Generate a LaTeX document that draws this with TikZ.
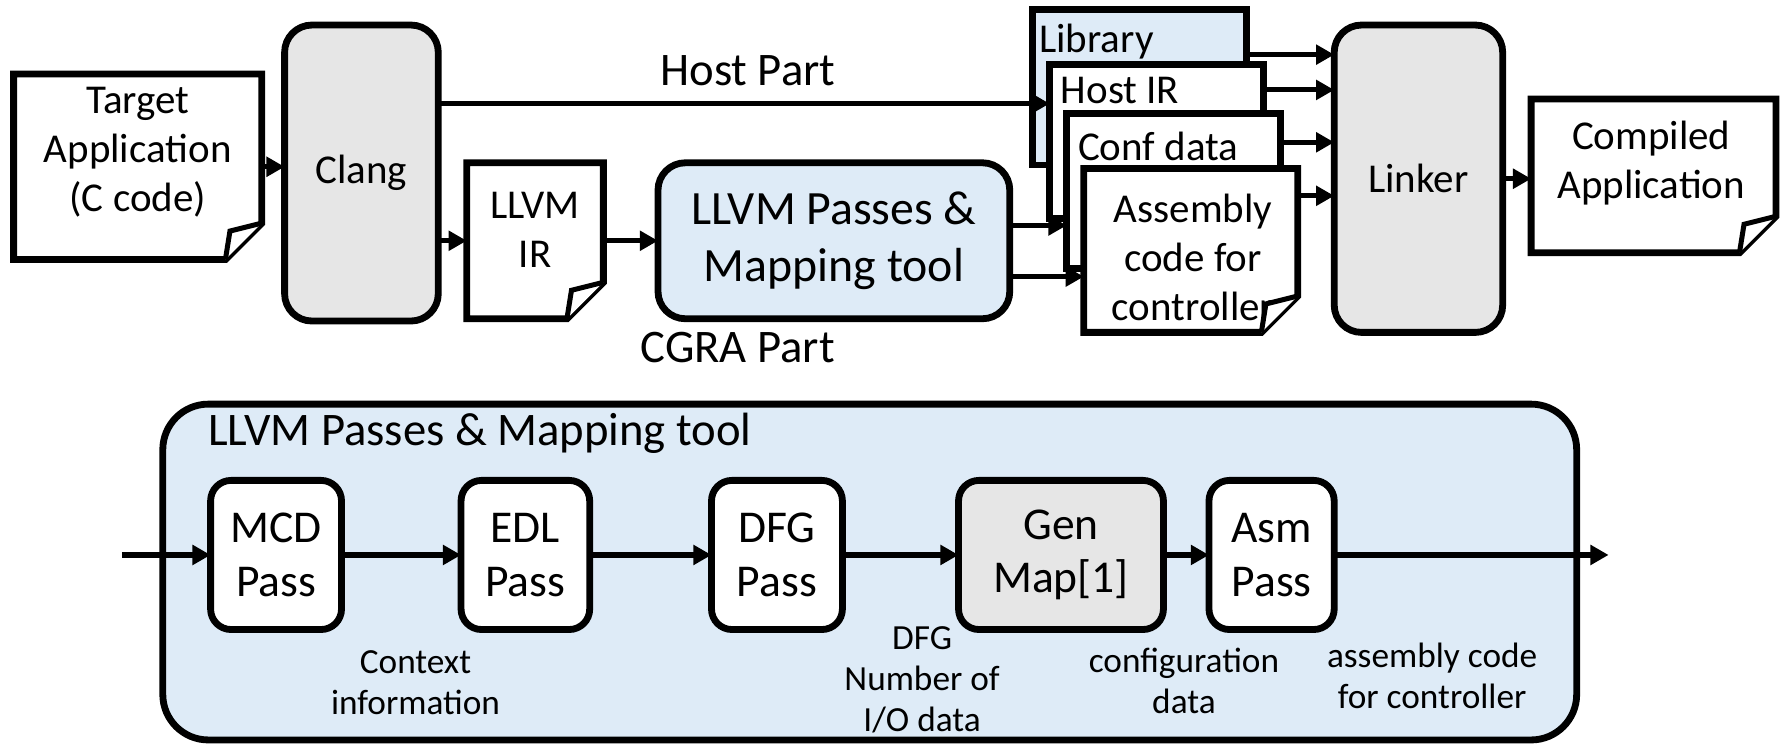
\documentclass[tikz,border=0pt]{standalone}
\usepackage{fontspec}
\setmainfont{Carlito}
\usetikzlibrary{arrows.meta}

\definecolor{procgray}{HTML}{E6E6E6}
\definecolor{toolblue}{HTML}{DEEBF7}

% outline of a document with a folded corner round node #1
\newcommand{\docbox}[2]{%
  \draw [boxline, fill=#2] (#1.north west) -- (#1.north east) -- ([yshift=16pt]#1.south east)
        -- ([xshift=-16pt]#1.south east) -- (#1.south west) -- cycle;
  \draw [boxline, line width=2.2pt, fill=white] ([xshift=-16pt]#1.south east)
        -- ([xshift=-14pt,yshift=12.5pt]#1.south east) -- ([yshift=16pt]#1.south east);
}

\begin{document}
\begin{tikzpicture}[x=0.5pt,y=-0.5pt]
\tikzset{ >={Triangle[length=8pt,width=8.5pt]}, inner sep=0pt, outer sep=0pt,
  boxline/.style={draw=black, line width=3pt},
  docnode/.style={minimum width=94pt},
  procbox/.style={boxline, rounded corners=12pt},
  passbox/.style={boxline, rounded corners=9pt, fill=white, minimum width=57.5pt, minimum height=65.5pt, txtpass},
  arr/.style={->, line width=2.2pt},
  txtmain/.style={font=\fontsize{18pt}{21.5pt}\selectfont, align=center},
  txtbig/.style={font=\fontsize{21pt}{25pt}\selectfont, align=center},
  txtpass/.style={font=\fontsize{20pt}{23.5pt}\selectfont, align=center},
  txtpart/.style={font=\fontsize{20.5pt}{24pt}\selectfont},
  txtsmall/.style={font=\fontsize{15.5pt}{18pt}\selectfont, align=center},
}

\useasboundingbox (0,0) rectangle (1568,657);

%\draw [lightgray, dashed] (0,0) grid[step=100] (1568,657);

% compile flow
\node [docnode, minimum width=109pt, minimum height=81.5pt] (tgt) at (121,146.5) {};
\docbox{tgt}{white}
\node [txtmain] (tgtt) at ([yshift=6.5pt]tgt.center) {Target\\Application\\(C code)};

\node [procbox, fill=procgray, minimum width=67.5pt, minimum height=130pt, txtmain] (clang) at (317.5,152) {Clang};

\node [docnode, minimum width=60pt, minimum height=68.5pt] (llvmir) at (470,211.5) {};
\docbox{llvmir}{white}
\node [txtmain] (llvmirt) at ([yshift=5pt]llvmir.center) {LLVM\\IR};

\node [procbox, fill=toolblue, minimum width=154.5pt, minimum height=68.5pt, txtbig] (passes) at (732.5,211.5) {LLVM Passes \&\\Mapping tool};

\node [boxline, fill=toolblue, minimum width=94pt, minimum height=68.5pt] (lib) at (1001,76.5) {};
\node [txtmain, anchor=base west] (libt) at ([xshift=3pt,yshift=-19pt]lib.north west) {Library};
\node [boxline, fill=white, minimum width=94pt, minimum height=67.5pt] (hostir) at (1016,124.5) {};
\node [txtmain, anchor=base west] (hostirt) at ([xshift=5pt,yshift=-17pt]hostir.north west) {Host IR};
\node [boxline, fill=white, minimum width=94pt, minimum height=68pt] (conf) at (1031,168) {};
\node [txtmain, anchor=base west] (conft) at ([xshift=5pt,yshift=-20.5pt]conf.north west) {Conf data};
\node [docnode, minimum height=72pt] (asm) at (1046,220) {};
\docbox{asm}{white}
\node [txtmain] (asmt) at ([xshift=1pt,yshift=-3.25pt]asm.center) {Assembly\\code for\\controller};

\node [procbox, fill=procgray, minimum width=74pt, minimum height=135pt, txtmain] (linker) at (1246,157) {Linker};

\node [docnode, minimum width=107.5pt, minimum height=67.5pt] (comp) at (1452.5,154.5) {};
\docbox{comp}{white}
\node [txtmain] (compt) at ([xshift=-1pt,yshift=5.5pt]comp.center) {Compiled\\Application};

\node [txtpart] (hostl) at (657,62) {Host Part};
\node [txtpart] (cgral) at (648,305) {CGRA Part};

\draw [arr] (tgt.east) -- (tgt.east -| clang.west);
\coordinate (hostp) at ([yshift=30.5pt]clang.east);
\draw [arr] (hostp) -- (hostp -| hostir.west);
\draw [arr] (clang.east |- llvmir.west) -- (llvmir.west);
\draw [arr] (llvmir) -- (passes);
\coordinate (pa) at ([yshift=6.75pt]passes.east);
\draw [arr] (pa) -- (pa -| conf.west);
\coordinate (pb) at ([yshift=-15.75pt]passes.east);
\draw [arr] (pb) -- (pb -| asm.west);

\foreach \n/\s in {lib/14.25pt, hostir/22.75pt, conf/21.5pt, asm/24pt} {
  \coordinate (t) at ([yshift=\s]\n.east);
  \draw [arr] (t) -- (t -| linker.west);
}
\draw [arr] (linker.east) -- (linker.east -| comp.west);

% inside the mapping tool
\node [boxline, rounded corners=20pt, fill=toolblue, minimum width=621pt, minimum height=147.5pt] (tool) at (764,502.5) {};
\node [txtpart, anchor=base west] (toolt) at (183,391) {LLVM Passes \& Mapping tool};

\node [passbox] (mcd) at (242.5,487.5) {MCD\\Pass};
\node [passbox, minimum width=56.5pt] (edl) at (461.5,487.5) {EDL\\Pass};
\node [passbox] (dfg) at (682.5,487.5) {DFG\\Pass};
\node [passbox, fill=procgray, minimum width=90pt] (gen) at (932,487.5) {Gen\\Map[1]};
\node [passbox, minimum width=55pt] (asmp) at (1117,487.5) {Asm\\Pass};

\coordinate (in) at (107,487.5);
\coordinate (out) at (1413,487.5);
\draw [arr, line width=3pt] (in) -- (mcd);
\draw [arr, line width=3pt] (mcd) -- (edl);
\draw [arr, line width=3pt] (edl) -- (dfg);
\draw [arr, line width=3pt] (dfg) -- (gen);
\draw [arr, line width=3pt] (gen) -- (asmp);
\draw [arr, line width=3pt] (asmp) -- (out);

\node [txtsmall] (ctxl) at (365,600) {Context\\information};
\node [txtsmall] (dfgl) at (810,597) {DFG\\Number of\\I/O data};
\node [txtsmall] (cfgl) at (1040,598.5) {configuration\\data};
\node [txtsmall] (asml) at (1258,594) {assembly code\\for controller};

\end{tikzpicture}
\end{document}
